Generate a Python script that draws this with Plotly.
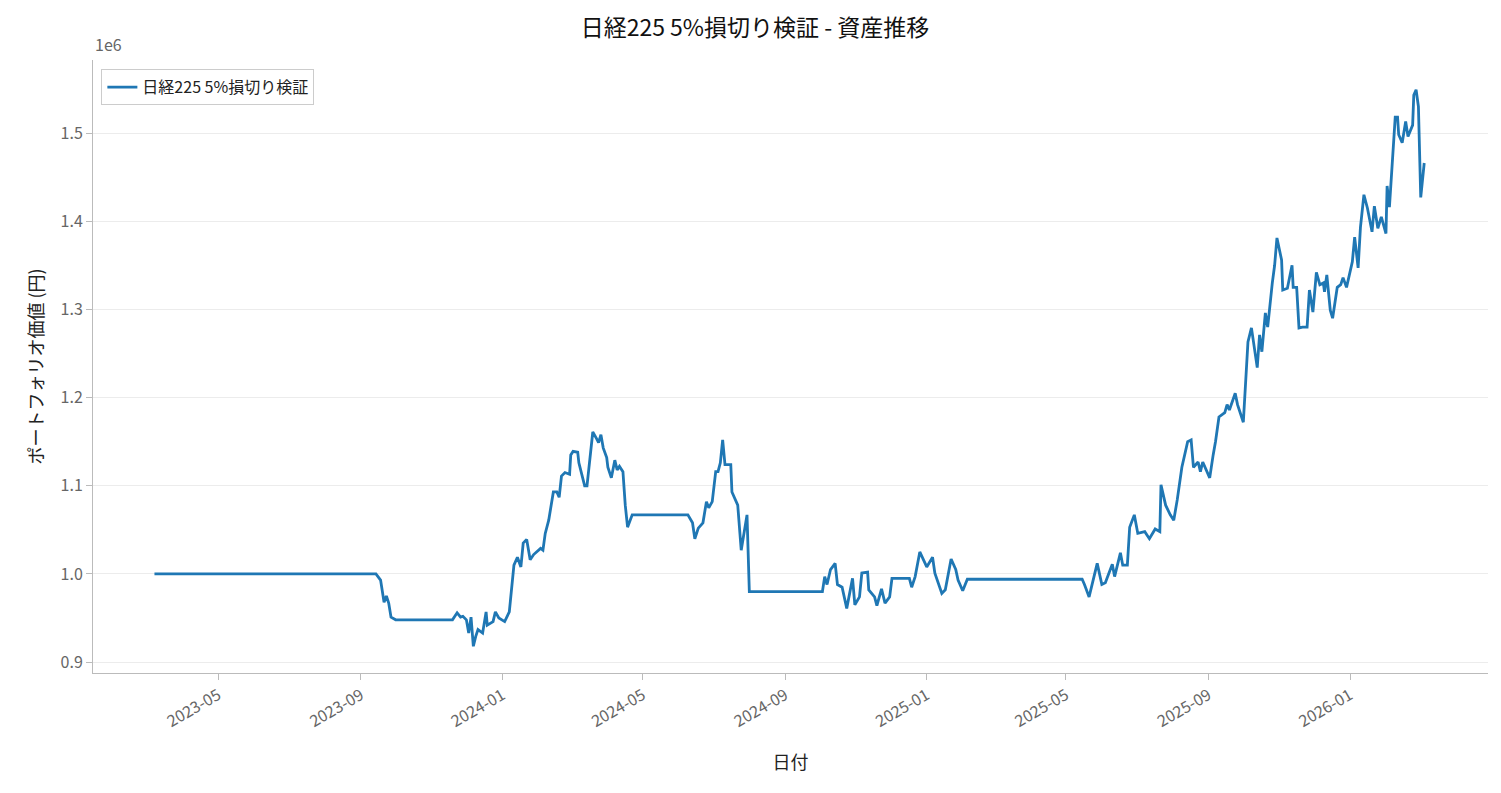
import plotly.graph_objects as go

dates = ["2023-03-07","2023-09-14","2023-09-18","2023-09-21","2023-09-23","2023-09-25","2023-09-27","2023-10-01",
"2023-11-19","2023-11-23","2023-11-26","2023-11-28","2023-12-01","2023-12-03","2023-12-05","2023-12-07","2023-12-09",
"2023-12-11","2023-12-15","2023-12-18","2023-12-19","2023-12-24","2023-12-26","2023-12-29","2024-01-03","2024-01-07",
"2024-01-11","2024-01-14","2024-01-17","2024-01-19","2024-01-22","2024-01-25","2024-01-28","2024-01-31","2024-02-03",
"2024-02-05","2024-02-07","2024-02-10","2024-02-12","2024-02-14","2024-02-17","2024-02-19","2024-02-21","2024-02-24",
"2024-02-28","2024-02-29","2024-03-02","2024-03-06","2024-03-07","2024-03-10","2024-03-12","2024-03-14","2024-03-19",
"2024-03-22","2024-03-24","2024-03-26","2024-03-28","2024-03-31","2024-04-01","2024-04-04","2024-04-07","2024-04-09",
"2024-04-11","2024-04-14","2024-04-16","2024-04-18","2024-04-22","2024-06-09","2024-06-13","2024-06-15","2024-06-18",
"2024-06-22","2024-06-25","2024-06-27","2024-06-30","2024-07-03","2024-07-05","2024-07-07","2024-07-09","2024-07-11",
"2024-07-16","2024-07-17","2024-07-22","2024-07-25","2024-07-30","2024-08-01","2024-10-03","2024-10-05","2024-10-07",
"2024-10-10","2024-10-14","2024-10-16","2024-10-20","2024-10-24","2024-10-29","2024-10-31","2024-11-04","2024-11-06",
"2024-11-11","2024-11-12","2024-11-17","2024-11-19","2024-11-23","2024-11-26","2024-11-30","2024-12-02","2024-12-17",
"2024-12-19","2024-12-22","2024-12-26","2025-01-01","2025-01-06","2025-01-08","2025-01-14","2025-01-17","2025-01-22",
"2025-01-26","2025-01-28","2025-02-01","2025-02-05","2025-05-15","2025-05-17","2025-05-21","2025-05-28","2025-06-01",
"2025-06-04","2025-06-10","2025-06-12","2025-06-17","2025-06-19","2025-06-23","2025-06-25","2025-06-29","2025-07-02",
"2025-07-08","2025-07-12","2025-07-17","2025-07-21","2025-07-22","2025-07-26","2025-07-30","2025-08-02","2025-08-05",
"2025-08-09","2025-08-12","2025-08-14","2025-08-17","2025-08-19","2025-08-23","2025-08-25","2025-08-27","2025-08-31",
"2025-09-02","2025-09-05","2025-09-07","2025-09-10","2025-09-15","2025-09-17","2025-09-19","2025-09-24","2025-09-26",
"2025-10-01","2025-10-05","2025-10-08","2025-10-13","2025-10-15","2025-10-17","2025-10-20","2025-10-22","2025-10-26",
"2025-10-28","2025-10-30","2025-11-03","2025-11-04","2025-11-08","2025-11-12","2025-11-13","2025-11-16","2025-11-18",
"2025-11-21","2025-11-25","2025-11-27","2025-11-30","2025-12-03","2025-12-06","2025-12-09","2025-12-10","2025-12-12",
"2025-12-15","2025-12-17","2025-12-21","2025-12-24","2025-12-26","2025-12-29","2026-01-03","2026-01-05","2026-01-08",
"2026-01-10","2026-01-13","2026-01-16","2026-01-20","2026-01-22","2026-01-25","2026-01-28","2026-02-01","2026-02-02",
"2026-02-04","2026-02-09","2026-02-11","2026-02-12","2026-02-15","2026-02-18","2026-02-20","2026-02-24","2026-02-25",
"2026-02-27","2026-03-01","2026-03-03","2026-03-06"]

values = [1000000,1000000,993000,968000,975000,967000,951000,948000,
948000,956000,951000,952000,948000,933000,951000,918000,929000,
937000,933000,957000,942000,946000,957000,950000,946000,957000,
1010000,1019000,1008000,1035000,1039000,1016000,1022000,1025000,1029000,
1027000,1046000,1061000,1078000,1093000,1093000,1087000,1111000,1115000,
1113000,1135000,1139000,1138000,1126000,1109000,1100000,1100000,1161000,
1154000,1149000,1158000,1143000,1132000,1121000,1109000,1129000,1118000,
1122000,1116000,1078000,1053000,1067000,1067000,1058000,1040000,1052000,
1058000,1082000,1075000,1082000,1116000,1116000,1126000,1152000,1124000,
1124000,1093000,1078000,1027000,1067000,980000,980000,997000,988000,
1005000,1012000,988000,985000,961000,995000,965000,974000,1001000,
1002000,982000,974000,964000,983000,967000,974000,995000,995000,
985000,997000,1025000,1008000,1019000,1001000,978000,982000,1017000,
1005000,993000,981000,994000,994000,988000,974000,1012000,988000,
990000,1011000,997000,1024000,1010000,1010000,1053000,1067000,1046000,
1048000,1040000,1051000,1048000,1101000,1078000,1067000,1061000,1084000,
1121000,1141000,1150000,1152000,1121000,1127000,1116000,1127000,1115000,
1109000,1135000,1150000,1178000,1183000,1192000,1186000,1205000,1192000,
1172000,1263000,1279000,1234000,1271000,1252000,1296000,1280000,1330000,
1350000,1381000,1356000,1322000,1324000,1350000,1325000,1325000,1279000,
1280000,1280000,1322000,1297000,1342000,1328000,1330000,1320000,1339000,
1299000,1290000,1325000,1328000,1336000,1325000,1354000,1382000,1347000,
1393000,1430000,1415000,1388000,1417000,1392000,1405000,1386000,1440000,
1416000,1518000,1518000,1498000,1489000,1513000,1496000,1509000,1543000,
1549000,1530000,1427000,1466000]

y_tickvals = [900000,1000000,1100000,1200000,1300000,1400000,1500000]
y_ticktext = ["0.9","1.0","1.1","1.2","1.3","1.4","1.5"]
x_tickvals = ["2023-05-01","2023-09-01","2024-01-01","2024-05-01","2024-09-01","2025-01-01","2025-05-01","2025-09-01","2026-01-01"]
x_ticktext = ["2023-05","2023-09","2024-01","2024-05","2024-09","2025-01","2025-05","2025-09","2026-01"]

FONT = "Noto Sans CJK JP"
fig = go.Figure()
fig.add_trace(go.Scatter(x=dates, y=values, mode="lines", name="日経225 5%損切り検証",
                         line=dict(color="#1f77b4", width=2.8)))
fig.update_layout(
    width=1494, height=785, autosize=False,
    paper_bgcolor="white", plot_bgcolor="white",
    font=dict(family=FONT, size=15, color="#333"),
    margin=dict(l=85, r=14, t=52, b=120),
    title=dict(text="日経225 5%損切り検証 - 資産推移", x=0.5, xanchor="center", y=0.975, yanchor="middle",
               font=dict(size=23, color="#111", family=FONT)),
    showlegend=True,
    legend=dict(x=0.006, y=0.985, xanchor="left", yanchor="top", bgcolor="white",
                bordercolor="#ccc", borderwidth=1, font=dict(size=16, color="#222")),
    xaxis=dict(type="date", range=["2023-01-13", "2026-04-30"], tickvals=x_tickvals, ticktext=x_ticktext,
               tickangle=-30, showgrid=False, showline=True, linecolor="#bbb", linewidth=1,
               ticks="outside", tickcolor="#bbb", ticklen=6, tickfont=dict(size=16, color="#666"),
               title=dict(text="日付", font=dict(size=18, color="#222"), standoff=25), automargin=False, zeroline=False),
    yaxis=dict(range=[887700, 1582800], tickvals=y_tickvals, ticktext=y_ticktext,
               showgrid=True, gridcolor="#ececec", gridwidth=1, showline=True, linecolor="#bbb", linewidth=1,
               ticks="outside", tickcolor="#bbb", ticklen=6, tickfont=dict(size=16, color="#666"),
               title=dict(text="ポートフォリオ価値 (円)", font=dict(size=18, color="#222"), standoff=12),
               automargin=False, zeroline=False),
)
fig.add_annotation(text="1e6", xref="paper", yref="paper", x=0, y=1.0, xanchor="left", yanchor="bottom",
                   showarrow=False, font=dict(size=16, color="#666"), yshift=2)
fig.write_html("out.html")
